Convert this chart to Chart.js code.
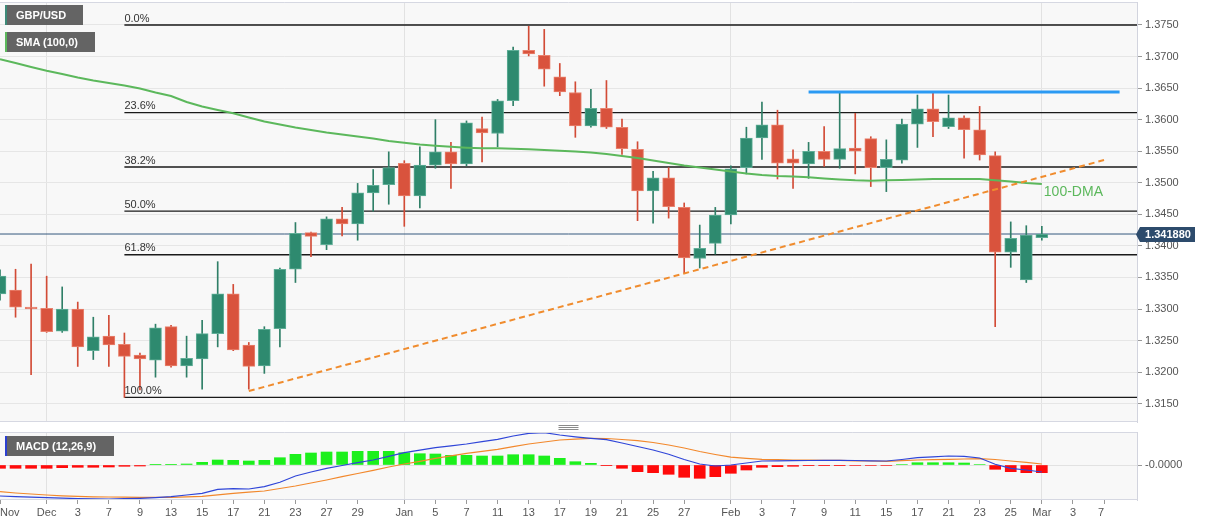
<!DOCTYPE html>
<html>
<head>
<meta charset="utf-8">
<title>GBP/USD daily</title>
<script src="https://cdn.jsdelivr.net/npm/chart.js@4.4.1/dist/chart.umd.min.js"></script>
<style>
  html, body { margin: 0; padding: 0; background: #fff; }
  body { width: 1207px; height: 526px; position: relative; overflow: hidden; font-family: "Liberation Sans", Arial, sans-serif; }
  canvas { position: absolute; left: 0; }
  #priceChart { top: 0; }
  #macdChart { top: 424px; }
  .tag { position: absolute; left: 5px; height: 20px; line-height: 20px; box-sizing: border-box; padding-left: 9px;
         background: rgba(88,88,88,0.93); color: #fff; font-size: 11px; font-weight: bold; border-left: 2px solid; z-index: 2; }
</style>
</head>
<body>
<canvas id="priceChart" width="1207" height="424"></canvas>
<canvas id="macdChart" width="1207" height="102"></canvas>
<div class="tag" style="top:5px;width:78px;border-color:#3d8a78">GBP/USD</div>
<div class="tag" style="top:32px;width:90px;border-color:#5cb85c">SMA (100,0)</div>
<div class="tag" style="top:436px;width:109px;border-color:#2b3fd0">MACD (12,26,9)</div>
<script>
// trading days (last few are empty future slots on the axis)
const dates = ['Nov 26','Nov 29','Nov 30','Dec 1','Dec 2','Dec 3','Dec 6','Dec 7','Dec 8','Dec 9','Dec 10',
  'Dec 13','Dec 14','Dec 15','Dec 16','Dec 17','Dec 20','Dec 21','Dec 22','Dec 23','Dec 24',
  'Dec 27','Dec 28','Dec 29','Dec 30','Dec 31','Jan 3','Jan 4','Jan 5','Jan 6','Jan 7',
  'Jan 10','Jan 11','Jan 12','Jan 13','Jan 14','Jan 17','Jan 18','Jan 19','Jan 20','Jan 21',
  'Jan 24','Jan 25','Jan 26','Jan 27','Jan 28','Jan 31','Feb 1','Feb 2','Feb 3','Feb 4',
  'Feb 7','Feb 8','Feb 9','Feb 10','Feb 11','Feb 14','Feb 15','Feb 16','Feb 17','Feb 18',
  'Feb 21','Feb 22','Feb 23','Feb 24','Feb 25','Feb 28','Mar 1','Mar 2','Mar 3','Mar 4',
  'Mar 7','Mar 8','Mar 9'];

const tickDates = ['Nov 26','Dec 1','Dec 3','Dec 7','Dec 9','Dec 13','Dec 15','Dec 17','Dec 21','Dec 23','Dec 27','Dec 29',
  'Jan 3','Jan 5','Jan 7','Jan 11','Jan 13','Jan 17','Jan 19','Jan 21','Jan 25','Jan 27',
  'Feb 1','Feb 3','Feb 7','Feb 9','Feb 11','Feb 15','Feb 17','Feb 21','Feb 23','Feb 25','Mar 1','Mar 3','Mar 7'];
const tickTexts = ['Nov','Dec','3','7','9','13','15','17','21','23','27','29',
  'Jan','5','7','11','13','17','19','21','25','27',
  'Feb','3','7','9','11','15','17','21','23','25','Mar','3','7'];
const monthStarts = ['Dec 1','Jan 3','Feb 1','Mar 1'];

const open = [1.3324,1.3330,1.3303,1.3301,1.3265,1.3300,1.3234,1.3257,1.3244,1.3227,
  1.3219,1.3272,1.3210,1.3221,1.3261,1.3324,1.3243,1.3210,1.3269,1.3363,
  1.3421,1.3402,1.3443,1.3435,1.3484,1.3497,1.3531,1.3479,1.3528,1.3549,
  1.3530,1.3586,1.3578,1.3630,1.3710,1.3702,1.3668,1.3643,1.3590,1.3618,
  1.3588,1.3553,1.3487,1.3508,1.3461,1.3380,1.3404,1.3449,1.3524,1.3571,
  1.3592,1.3538,1.3530,1.3550,1.3537,1.3555,1.3570,1.3524,1.3536,1.3593,
  1.3617,1.3589,1.3603,1.3584,1.3543,1.3390,1.3346,1.3413];
const high = [1.3362,1.3363,1.3371,1.3352,1.3335,1.3311,1.3287,1.3290,1.3262,1.3230,
  1.3276,1.3274,1.3257,1.3282,1.3375,1.3339,1.3247,1.3272,1.3365,1.3437,
  1.3422,1.3446,1.3461,1.3499,1.3521,1.3549,1.3535,1.3557,1.3600,1.3564,
  1.3598,1.3604,1.3632,1.3715,1.3748,1.3743,1.3689,1.3660,1.3648,1.3662,
  1.3601,1.3565,1.3518,1.3524,1.3468,1.3433,1.3461,1.3527,1.3588,1.3628,
  1.3615,1.3552,1.3564,1.3589,1.3643,1.3610,1.3573,1.3568,1.3601,1.3639,
  1.3642,1.3639,1.3606,1.3621,1.3549,1.3438,1.3432,1.3431];
const low = [1.3314,1.3287,1.3196,1.3263,1.3263,1.3209,1.3220,1.3209,1.3160,1.3172,
  1.3192,1.3208,1.3192,1.3173,1.3240,1.3234,1.3173,1.3198,1.3240,1.3342,
  1.3383,1.3394,1.3416,1.3409,1.3455,1.3466,1.3431,1.3460,1.3523,1.3491,
  1.3527,1.3533,1.3557,1.3622,1.3701,1.3653,1.3638,1.3572,1.3588,1.3586,
  1.3545,1.3440,1.3436,1.3444,1.3357,1.3365,1.3387,1.3435,1.3514,1.3537,
  1.3506,1.3491,1.3507,1.3526,1.3523,1.3514,1.3494,1.3486,1.3531,1.3556,
  1.3573,1.3586,1.3539,1.3536,1.3272,1.3366,1.3342,1.3409];
const close = [1.3352,1.3303,1.3300,1.3264,1.3300,1.3240,1.3256,1.3243,1.3225,1.3221,
  1.3270,1.3210,1.3222,1.3261,1.3324,1.3235,1.3209,1.3268,1.3363,1.3420,
  1.3415,1.3443,1.3435,1.3484,1.3496,1.3524,1.3479,1.3528,1.3549,1.3530,
  1.3595,1.3579,1.3630,1.3710,1.3704,1.3680,1.3644,1.3590,1.3618,1.3588,
  1.3554,1.3487,1.3508,1.3462,1.3381,1.3396,1.3449,1.3522,1.3571,1.3592,
  1.3531,1.3531,1.3550,1.3537,1.3554,1.3550,1.3524,1.3537,1.3593,1.3617,
  1.3597,1.3603,1.3584,1.3544,1.3390,1.3412,1.3417,1.34188];

const sma100 = [1.36957,1.36898,1.36835,1.36776,1.36724,1.36668,1.36621,1.36581,1.36542,1.36494,
  1.36431,1.36375,1.36280,1.36209,1.36153,1.36101,1.36035,1.35971,1.35924,1.35876,
  1.35837,1.35797,1.35765,1.35734,1.35702,1.35662,1.35634,1.35607,1.35586,1.35570,
  1.35556,1.35547,1.35547,1.35539,1.35531,1.35520,1.35509,1.35496,1.35480,1.35456,
  1.35425,1.35393,1.35354,1.35314,1.35274,1.35243,1.35211,1.35179,1.35148,1.35124,
  1.35108,1.35100,1.35088,1.35069,1.35053,1.35040,1.35034,1.35040,1.35045,1.35053,
  1.35061,1.35061,1.35061,1.35061,1.35040,1.35021,1.34997,1.34981];

const macdLine = [-0.00310,-0.00316,-0.00321,-0.00327,-0.00332,-0.00337,-0.00339,-0.00340,-0.00337,-0.00333,
  -0.00326,-0.00317,-0.00300,-0.00283,-0.00243,-0.00237,-0.00240,-0.00217,-0.00173,-0.00110,
  -0.00070,-0.00033,-0.00005,0.00023,0.00050,0.00087,0.00123,0.00148,0.00173,0.00192,
  0.00210,0.00233,0.00256,0.00290,0.00317,0.00323,0.00300,0.00282,0.00267,0.00253,
  0.00220,0.00185,0.00150,0.00108,0.00055,0.00010,-0.00010,0.00000,0.00020,0.00040,
  0.00042,0.00043,0.00045,0.00046,0.00047,0.00045,0.00042,0.00040,0.00055,0.00073,
  0.00082,0.00090,0.00087,0.00070,0.00007,-0.00033,-0.00050,-0.00070];
const signalLine = [-0.00267,-0.00280,-0.00290,-0.00300,-0.00308,-0.00314,-0.00318,-0.00320,-0.00322,-0.00323,
  -0.00323,-0.00323,-0.00318,-0.00313,-0.00298,-0.00283,-0.00272,-0.00260,-0.00235,-0.00210,
  -0.00180,-0.00150,-0.00117,-0.00085,-0.00053,-0.00020,0.00010,0.00037,0.00067,0.00092,
  0.00117,0.00137,0.00157,0.00183,0.00210,0.00230,0.00250,0.00258,0.00267,0.00265,
  0.00255,0.00244,0.00225,0.00200,0.00170,0.00135,0.00105,0.00078,0.00067,0.00057,
  0.00053,0.00050,0.00049,0.00047,0.00046,0.00042,0.00040,0.00037,0.00044,0.00050,
  0.00054,0.00057,0.00060,0.00063,0.00055,0.00040,0.00027,0.00010];
const histogram = [-0.00033,-0.00033,-0.00033,-0.00033,-0.00027,-0.00023,-0.00023,-0.00020,-0.00013,-0.00010,
  0.00007,0.00007,0.00010,0.00027,0.00050,0.00047,0.00040,0.00047,0.00073,0.00107,
  0.00120,0.00130,0.00130,0.00137,0.00137,0.00137,0.00123,0.00113,0.00110,0.00097,
  0.00097,0.00090,0.00090,0.00103,0.00103,0.00090,0.00067,0.00033,0.00017,-0.00007,
  -0.00033,-0.00067,-0.00077,-0.00093,-0.00123,-0.00133,-0.00117,-0.00083,-0.00050,-0.00023,
  -0.00017,-0.00013,-0.00007,-0.00007,-0.00003,-0.00005,-0.00005,-0.00005,0.00005,0.00023,
  0.00023,0.00023,0.00020,0.00005,-0.00043,-0.00067,-0.00077,-0.00077];

const fibLevels = [1.3750, 1.3611, 1.3525, 1.3455, 1.3386, 1.3160];
const fibNames = ['0.0%', '23.6%', '38.2%', '50.0%', '61.8%', '100.0%'];
const fibFrom = 'Dec 8';
const priceTicks = [1.3150,1.3200,1.3250,1.3300,1.3350,1.3400,1.3450,1.3500,1.3550,1.3600,1.3650,1.3700,1.3750];
const lastPrice = 1.34188;
const trendDates = ['Dec 20', 'Mar 7'];
const trendValues = [1.3170, 1.3536];
const resistDates = ['Feb 8', 'Mar 8'];
const resistValues = [1.3644, 1.3644];

Chart.defaults.font.family = '"Liberation Sans", Arial, sans-serif';
Chart.defaults.font.size = 11;
Chart.defaults.color = '#555';

const X_MAX = 73.12;
const pos = d => dates.indexOf(d);
const isUp = i => close[i] >= open[i];

function panelBg(fill, edge) {
  return {
    id: 'panelBg',
    beforeDraw(chart) {
      const {ctx, chartArea: a} = chart;
      ctx.save();
      ctx.fillStyle = fill;
      ctx.fillRect(a.left, a.top, a.right - a.left, a.bottom - a.top);
      ctx.restore();
    },
    afterDraw(chart) {
      const {ctx, chartArea: a} = chart;
      ctx.save();
      ctx.strokeStyle = edge;
      ctx.lineWidth = 1;
      ctx.beginPath();
      ctx.moveTo(a.left, a.top + 0.5); ctx.lineTo(a.right, a.top + 0.5);
      ctx.moveTo(a.left, a.bottom - 0.5); ctx.lineTo(a.right, a.bottom - 0.5);
      ctx.stroke();
      ctx.restore();
    }
  };
}

const priceNotes = {
  id: 'priceNotes',
  afterDatasetsDraw(chart) {
    const {ctx, scales: {x, y}} = chart;
    ctx.save();
    ctx.font = '11px "Liberation Sans", Arial, sans-serif';
    ctx.fillStyle = '#333';
    ctx.textAlign = 'left';
    ctx.textBaseline = 'bottom';
    fibLevels.forEach((lv, i) => {
      ctx.fillText(fibNames[i], x.getPixelForValue(pos(fibFrom)), y.getPixelForValue(lv) - 1);
    });
    // 100-DMA label at the end of the average
    const last = sma100.length - 1;
    ctx.font = '14px "Liberation Sans", Arial, sans-serif';
    ctx.fillStyle = '#5cb85c';
    ctx.textBaseline = 'middle';
    ctx.fillText('100-DMA', x.getPixelForValue(last) + 2, y.getPixelForValue(sma100[last]) + 8);
    ctx.restore();
  },
  afterDraw(chart) {
    const {ctx, chartArea: a, scales: {y}} = chart;
    const py = Math.round(y.getPixelForValue(lastPrice)) + 0.5;
    const x0 = a.right;
    ctx.save();
    ctx.fillStyle = '#2d4b6c';
    ctx.beginPath();
    ctx.moveTo(x0 - 1, py);
    ctx.lineTo(x0 + 3, py - 7.5);
    ctx.lineTo(x0 + 58, py - 7.5);
    ctx.lineTo(x0 + 58, py + 7.5);
    ctx.lineTo(x0 + 3, py + 7.5);
    ctx.closePath();
    ctx.fill();
    ctx.fillStyle = '#fff';
    ctx.font = 'bold 11px "Liberation Sans", Arial, sans-serif';
    ctx.textAlign = 'center';
    ctx.textBaseline = 'middle';
    ctx.fillText(lastPrice.toFixed(6), x0 + 31, py + 0.5);
    ctx.restore();
  }
};

const lineSet = (xs, ys, color, width, order, extra) => Object.assign({
  type: 'line',
  data: xs.map((xv, i) => ({x: xv, y: ys[i]})),
  borderColor: color, borderWidth: width, pointRadius: 0, tension: 0, order: order
}, extra || {});

new Chart(document.getElementById('priceChart'), {
  type: 'bar',
  data: {
    datasets: [
      ...fibLevels.map(lv => lineSet([pos(fibFrom), X_MAX], [lv, lv], '#1a1a1a', 1.3, 10)),
      lineSet([0, X_MAX], [lastPrice, lastPrice], '#34587e', 1, 9),
      {
        type: 'bar',
        data: low.map((v, i) => ({x: i, y: [v, high[i]]})),
        backgroundColor: c => isUp(c.dataIndex) ? '#2f7f67' : '#d24b36',
        barThickness: 1, grouped: false, order: 7
      },
      {
        type: 'bar',
        data: open.map((v, i) => ({x: i, y: [v, close[i]]})),
        backgroundColor: c => isUp(c.dataIndex) ? '#2e8a6f' : '#d9533d',
        borderColor: c => isUp(c.dataIndex) ? '#5fae97' : '#e9826e',
        borderWidth: 1, borderSkipped: false,
        barThickness: 12, grouped: false, order: 6
      },
      lineSet(sma100.map((v, i) => i), sma100, '#5cb85c', 2, 3),
      lineSet(trendDates.map(pos), trendValues, '#f08c2e', 2, 2, {borderDash: [6, 4]}),
      lineSet(resistDates.map(pos), resistValues, '#2b9af3', 3, 1)
    ]
  },
  options: {
    responsive: false,
    animation: false,
    events: [],
    layout: {padding: {top: 2, bottom: 2, left: 0, right: 0}},
    plugins: {legend: {display: false}, tooltip: {enabled: false}},
    scales: {
      x: {
        type: 'linear', min: 0, max: X_MAX, offset: false,
        afterBuildTicks: ax => { ax.ticks = monthStarts.map(d => ({value: pos(d)})); },
        afterFit: ax => { ax.height = 0; ax.paddingLeft = 0; ax.paddingRight = 0; },
        ticks: {display: false},
        grid: {color: '#e2e2e2', drawTicks: false, offset: false},
        border: {display: false}
      },
      y: {
        type: 'linear', position: 'right', min: 1.3121, max: 1.37864,
        afterBuildTicks: ax => { ax.ticks = priceTicks.map(v => ({value: v})); },
        afterFit: ax => { ax.width = 70; ax.paddingTop = 0; ax.paddingBottom = 0; },
        ticks: {callback: v => v.toFixed(4), padding: 3},
        grid: {color: '#e6e6e6', tickColor: '#999', tickLength: 5},
        border: {color: '#d2d4de'}
      }
    }
  },
  plugins: [panelBg('#f8f8f8', '#d6d8e2'), priceNotes]
});

const handle = {
  id: 'handle',
  afterDraw(chart) {
    const {ctx, chartArea: a} = chart;
    const cx = (a.left + a.right) / 2;
    ctx.save();
    ctx.strokeStyle = '#8a8a8a';
    ctx.lineWidth = 1;
    ctx.beginPath();
    [1.5, 3.5, 5.5].forEach(yy => { ctx.moveTo(cx - 10, yy); ctx.lineTo(cx + 10, yy); });
    ctx.stroke();
    ctx.restore();
  }
};

new Chart(document.getElementById('macdChart'), {
  type: 'bar',
  data: {
    datasets: [
      lineSet(macdLine.map((v, i) => i), macdLine, '#2f45d8', 1.2, 1),
      lineSet(signalLine.map((v, i) => i), signalLine, '#f2882c', 1.2, 2),
      {
        type: 'bar',
        data: histogram.map((v, i) => ({x: i, y: v})),
        backgroundColor: c => histogram[c.dataIndex] >= 0 ? '#1cf01c' : '#ff0a0a',
        barThickness: 11, grouped: false, order: 3
      }
    ]
  },
  options: {
    responsive: false,
    animation: false,
    events: [],
    layout: {padding: {top: 8, bottom: 0, left: 0, right: 0}},
    plugins: {legend: {display: false}, tooltip: {enabled: false}},
    scales: {
      x: {
        type: 'linear', min: 0, max: X_MAX, offset: false,
        afterBuildTicks: ax => { ax.ticks = tickDates.map(d => ({value: pos(d)})); },
        afterFit: ax => { ax.height = 26; ax.paddingLeft = 0; ax.paddingRight = 0; },
        ticks: {autoSkip: false, maxRotation: 0, padding: 2, align: 'inner', callback: (v, i) => tickTexts[i]},
        grid: {
          offset: false,
          color: c => (c.tick && monthStarts.some(d => pos(d) === c.tick.value)) ? '#e2e2e2' : 'rgba(0,0,0,0)',
          tickColor: '#999', tickLength: 4
        },
        border: {display: false}
      },
      y: {
        type: 'linear', position: 'right', min: -0.0035, max: 0.0033,
        afterBuildTicks: ax => { ax.ticks = [{value: 0}]; },
        afterFit: ax => { ax.width = 70; ax.paddingTop = 0; ax.paddingBottom = 0; },
        ticks: {callback: () => '-0.0000', padding: 3},
        grid: {color: '#e2e2e2', tickColor: '#999', tickLength: 5},
        border: {color: '#d2d4de'}
      }
    }
  },
  plugins: [panelBg('#f8f8f8', '#d6d8e2'), handle]
});
</script>
</body>
</html>
